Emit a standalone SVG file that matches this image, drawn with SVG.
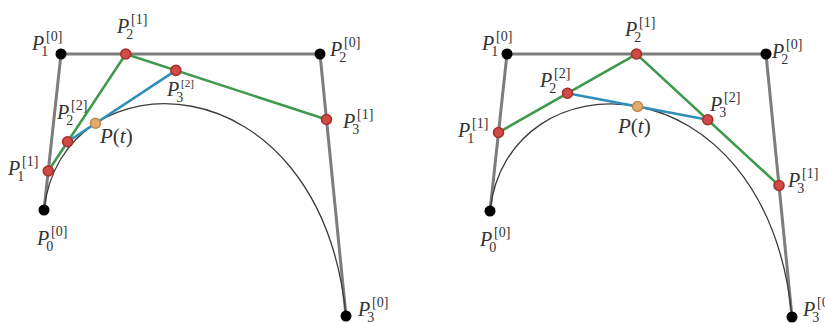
<svg xmlns="http://www.w3.org/2000/svg" width="825" height="323" viewBox="0 0 825 323">
<style>
.poly{fill:none;stroke:#7d7d7d;stroke-width:3;stroke-linejoin:round}
.curve{fill:none;stroke:#3c3c3c;stroke-width:1.3}
.green{fill:none;stroke:#3f9a4c;stroke-width:2.6}
.blue{fill:none;stroke:#2f8fb8;stroke-width:2.6}
.blk{fill:#000}
.red{fill:#cf4b45;stroke:#a8302c;stroke-width:1.6}
.org{fill:#e2ab70;stroke:#c28a4e;stroke-width:1.6}
.lbl{font-family:"Liberation Serif",serif;font-size:20px;fill:#333}
.it{font-style:italic}
.s{font-size:14px}
</style>
<g id="connectors">
<polyline class="poly" points="44,210 61,54 320,54 346,316"/>
<path class="curve" d="M44,210 C61,54 320,54 346,316"/>
<polyline class="green" points="48.25,171 125.75,54 326.5,119.5"/>
<line class="blue" x1="67.6" y1="141.75" x2="175.9" y2="70.4"/>
<polyline class="poly" points="490,211 507,54 766,54 792,317"/>
<path class="curve" d="M490,211 C507,54 766,54 792,317"/>
<polyline class="green" points="498.5,132.5 636.5,54 779,185.5"/>
<line class="blue" x1="567.5" y1="93.25" x2="707.75" y2="119.75"/>
</g>
<g id="left-P0"><circle class="blk" cx="44" cy="210" r="5.5"/><text class="lbl" x="37" y="245"><tspan class="it">P</tspan><tspan class="s" dx="-3" dy="6">0</tspan><tspan class="s" dx="-2.2" dy="-15">[0]</tspan></text></g>
<g id="left-P1"><circle class="blk" cx="61" cy="54" r="5.5"/><text class="lbl" x="32" y="50"><tspan class="it">P</tspan><tspan class="s" dx="-3" dy="6">1</tspan><tspan class="s" dx="-2.2" dy="-15">[0]</tspan></text></g>
<g id="left-P2"><circle class="blk" cx="320" cy="54" r="5.5"/><text class="lbl" x="330" y="56"><tspan class="it">P</tspan><tspan class="s" dx="-3" dy="6">2</tspan><tspan class="s" dx="-2.2" dy="-15">[0]</tspan></text></g>
<g id="left-P3"><circle class="blk" cx="346" cy="316" r="5.5"/><text class="lbl" x="358" y="316"><tspan class="it">P</tspan><tspan class="s" dx="-3" dy="6">3</tspan><tspan class="s" dx="-2.2" dy="-15">[0]</tspan></text></g>
<g id="left-P1-1"><circle class="red" cx="48.25" cy="171" r="5"/><text class="lbl" x="8" y="175"><tspan class="it">P</tspan><tspan class="s" dx="-3" dy="6">1</tspan><tspan class="s" dx="-2.2" dy="-15">[1]</tspan></text></g>
<g id="left-P2-1"><circle class="red" cx="125.75" cy="54" r="5"/><text class="lbl" x="117" y="33"><tspan class="it">P</tspan><tspan class="s" dx="-3" dy="6">2</tspan><tspan class="s" dx="-2.2" dy="-15">[1]</tspan></text></g>
<g id="left-P3-1"><circle class="red" cx="326.5" cy="119.5" r="5"/><text class="lbl" x="343" y="128"><tspan class="it">P</tspan><tspan class="s" dx="-3" dy="6">3</tspan><tspan class="s" dx="-2.2" dy="-15">[1]</tspan></text></g>
<g id="left-P2-2"><circle class="red" cx="67.6" cy="141.75" r="5"/><text class="lbl" x="57" y="119"><tspan class="it">P</tspan><tspan class="s" dx="-3" dy="6">2</tspan><tspan class="s" dx="-2.2" dy="-15">[2]</tspan></text></g>
<g id="left-P3-2"><circle class="red" cx="175.9" cy="70.4" r="5"/><text class="lbl" x="167" y="96"><tspan class="it">P</tspan><tspan class="s" dx="-3" dy="6">3</tspan><tspan class="s" dx="-2.2" dy="-15" style="font-size:11px">[2]</tspan></text></g>
<g id="left-Pt"><circle class="org" cx="95.5" cy="123.2" r="5"/><text class="lbl" x="100" y="143" style="font-size:21px"><tspan class="it">P</tspan>(<tspan class="it">t</tspan>)</text></g>
<g id="right-P0"><circle class="blk" cx="490" cy="211" r="5.5"/><text class="lbl" x="480" y="246"><tspan class="it">P</tspan><tspan class="s" dx="-3" dy="6">0</tspan><tspan class="s" dx="-2.2" dy="-15">[0]</tspan></text></g>
<g id="right-P1"><circle class="blk" cx="507" cy="54" r="5.5"/><text class="lbl" x="482" y="50"><tspan class="it">P</tspan><tspan class="s" dx="-3" dy="6">1</tspan><tspan class="s" dx="-2.2" dy="-15">[0]</tspan></text></g>
<g id="right-P2"><circle class="blk" cx="766" cy="54" r="5.5"/><text class="lbl" x="772" y="58"><tspan class="it">P</tspan><tspan class="s" dx="-3" dy="6">2</tspan><tspan class="s" dx="-2.2" dy="-15">[0]</tspan></text></g>
<g id="right-P3"><circle class="blk" cx="792" cy="317" r="5.5"/><text class="lbl" x="803" y="316"><tspan class="it">P</tspan><tspan class="s" dx="-3" dy="6">3</tspan><tspan class="s" dx="-2.2" dy="-15">[0]</tspan></text></g>
<g id="right-P1-1"><circle class="red" cx="498.5" cy="132.5" r="5"/><text class="lbl" x="458" y="137"><tspan class="it">P</tspan><tspan class="s" dx="-3" dy="6">1</tspan><tspan class="s" dx="-2.2" dy="-15">[1]</tspan></text></g>
<g id="right-P2-1"><circle class="red" cx="636.5" cy="54" r="5"/><text class="lbl" x="625" y="36"><tspan class="it">P</tspan><tspan class="s" dx="-3" dy="6">2</tspan><tspan class="s" dx="-2.2" dy="-15">[1]</tspan></text></g>
<g id="right-P3-1"><circle class="red" cx="779" cy="185.5" r="5"/><text class="lbl" x="788" y="187"><tspan class="it">P</tspan><tspan class="s" dx="-3" dy="6">3</tspan><tspan class="s" dx="-2.2" dy="-15">[1]</tspan></text></g>
<g id="right-P2-2"><circle class="red" cx="567.5" cy="93.25" r="5"/><text class="lbl" x="540" y="87"><tspan class="it">P</tspan><tspan class="s" dx="-3" dy="6">2</tspan><tspan class="s" dx="-2.2" dy="-15">[2]</tspan></text></g>
<g id="right-P3-2"><circle class="red" cx="707.75" cy="119.75" r="5"/><text class="lbl" x="710" y="111"><tspan class="it">P</tspan><tspan class="s" dx="-3" dy="6">3</tspan><tspan class="s" dx="-2.2" dy="-15">[2]</tspan></text></g>
<g id="right-Pt"><circle class="org" cx="637.6" cy="106.5" r="5"/><text class="lbl" x="618" y="133" style="font-size:21px"><tspan class="it">P</tspan>(<tspan class="it">t</tspan>)</text></g>
</svg>
